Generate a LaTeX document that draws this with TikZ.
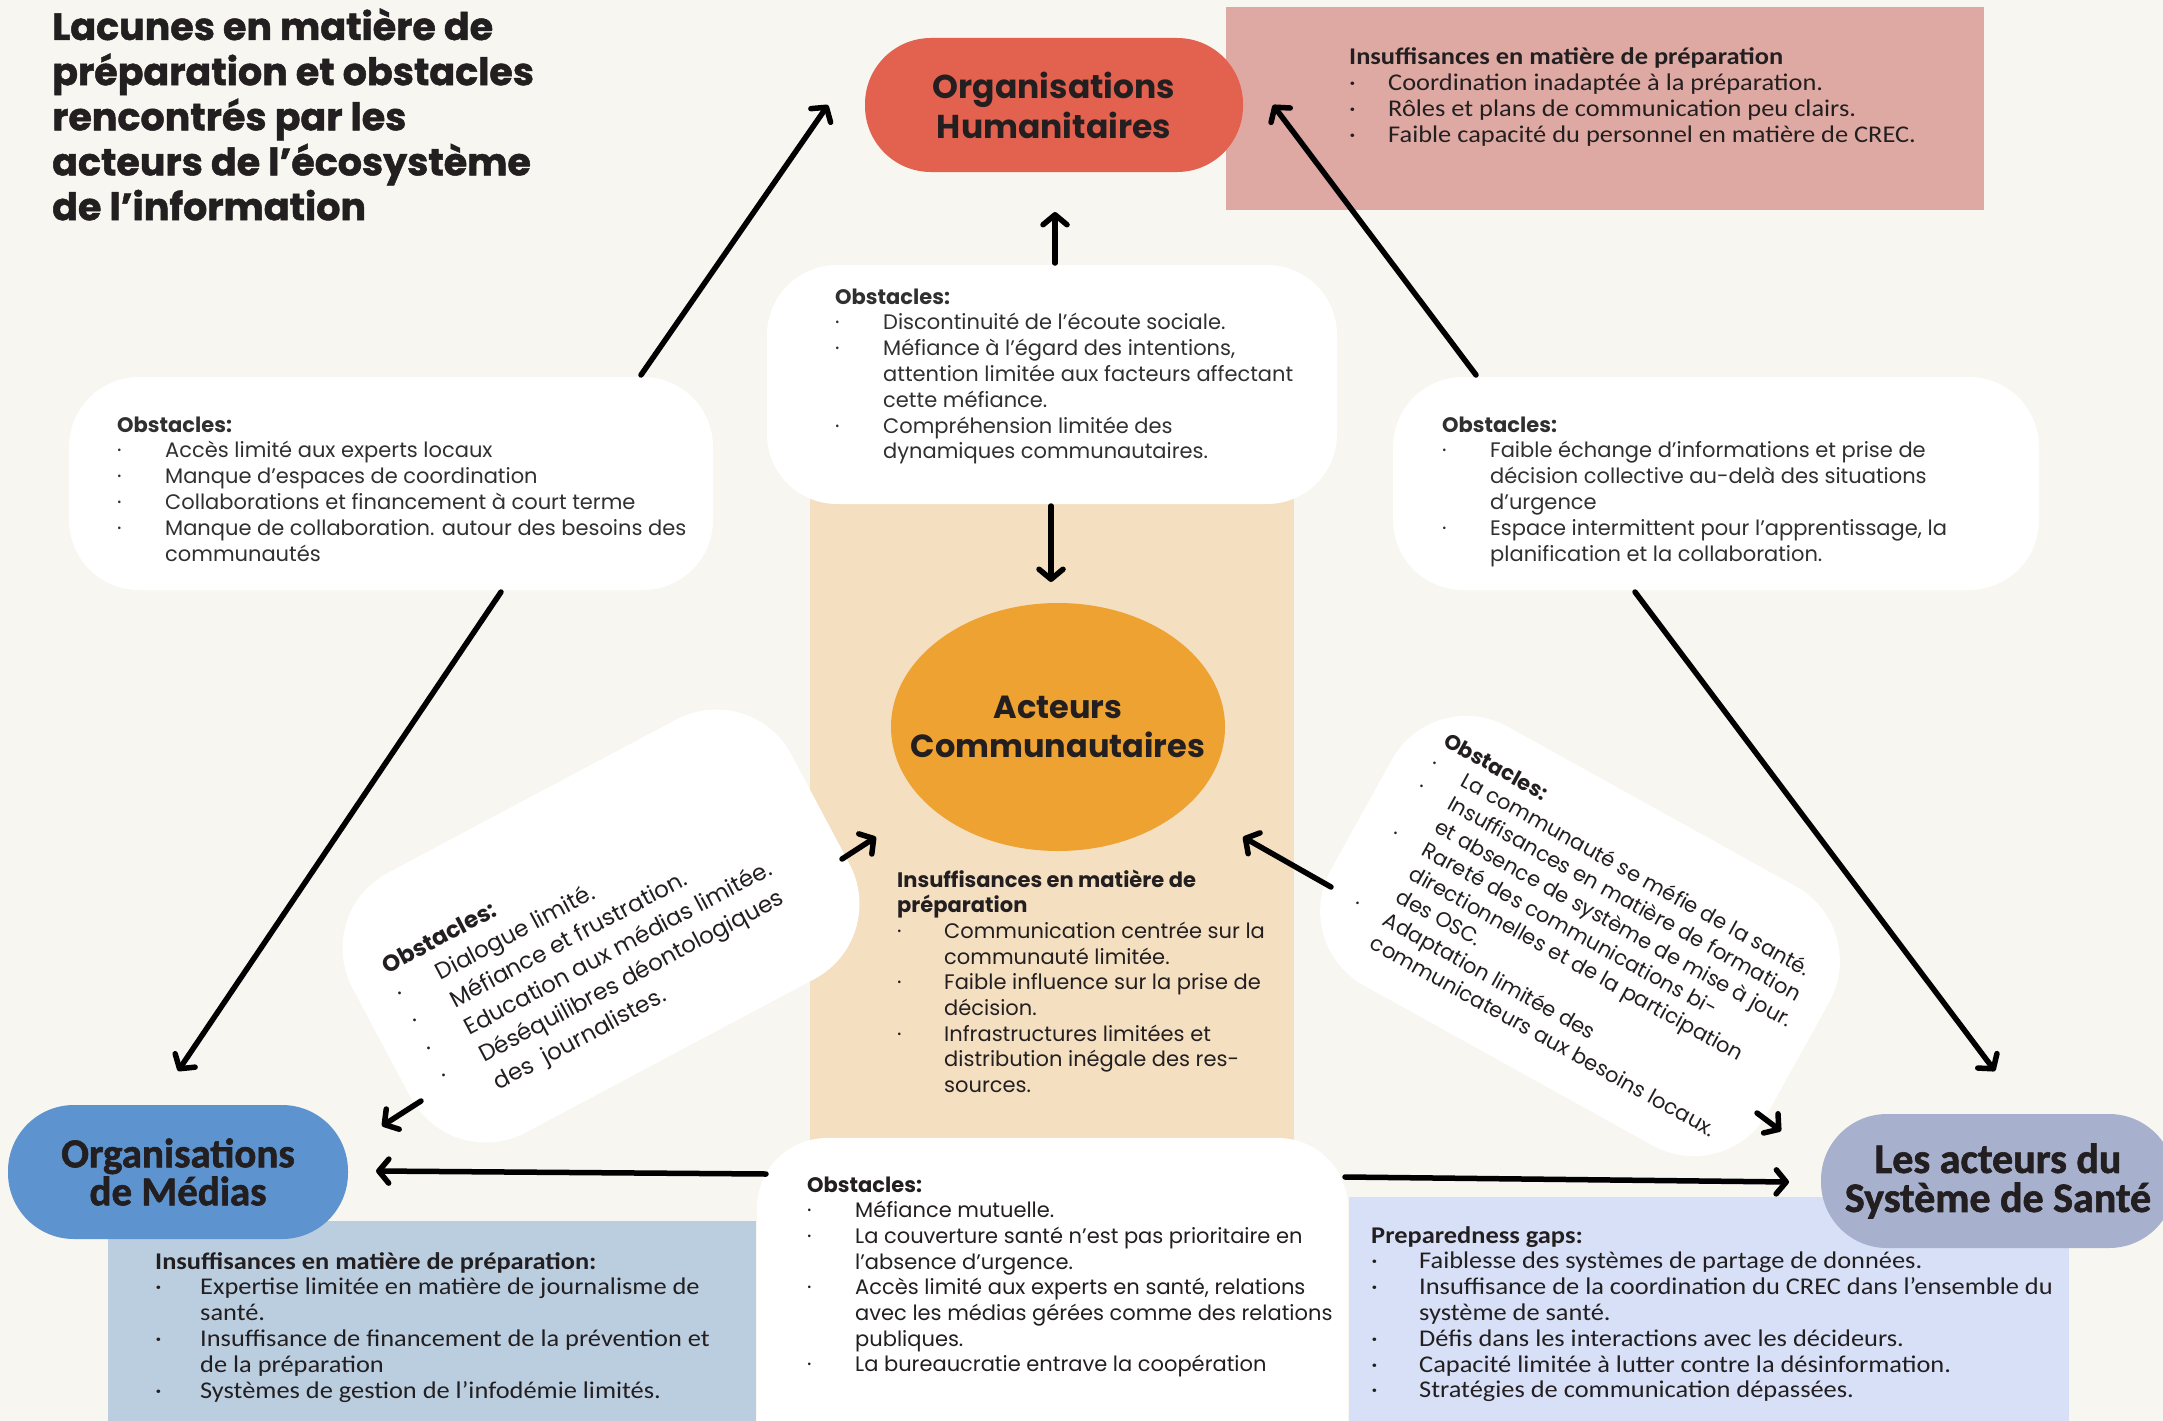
\documentclass[tikz,border=0pt]{standalone}
\usepackage{fontspec}
\setmainfont{Poppins}
\newfontfamily\titlef{Poppins}[BoldFeatures={FakeBold=1.3}]
\newfontfamily\condf{Carlito}[FakeStretch=1.1]
\newfontfamily\pillf{Carlito}[BoldFeatures={FakeBold=1.5}]
\usetikzlibrary{arrows.meta,calc,shapes.geometric}
\definecolor{bgc}{HTML}{F7F6F0}
\definecolor{ink}{HTML}{231F20}
\definecolor{lightink}{HTML}{303030}
\definecolor{humred}{HTML}{E2614F}
\definecolor{pinkbox}{HTML}{DFA9A3}
\definecolor{peach}{HTML}{F4DFC1}
\definecolor{orangec}{HTML}{EEA232}
\definecolor{medblue}{HTML}{5D93CF}
\definecolor{bluebox}{HTML}{BBCEE0}
\definecolor{healthc}{HTML}{A7B0CD}
\definecolor{lavbox}{HTML}{D7E0F6}
\newcommand\hd[1]{\multicolumn{2}{@{}l@{}}{\bfseries #1}}
\newcommand\bp{·}
\newcommand\lightsz{\fontsize{21}{25.8}\selectfont}
\newcommand\regsz{\fontsize{21}{25.7}\selectfont}
\newcommand\condsz{\condf\fontsize{24}{25.8}\selectfont}
\tikzset{
  wbox/.style={fill=white, draw=none, rounded corners=70pt, inner sep=0},
  plainbox/.style={draw=none, inner sep=0},
  pill/.style={draw=none, rounded corners=66pt, minimum height=134pt, inner sep=0, align=center, text=ink},
  arr/.style={draw=black, line width=5.5pt, line cap=round, line join=round, -{Straight Barb[length=10pt,width=24pt,round]}},
  txt/.style={inner sep=0, anchor=base west, text=ink},
}
\begin{document}
\begin{tikzpicture}[x=1pt,y=-1pt]
\clip (0,0) rectangle (2163,1421);
\fill[bgc] (0,0) rectangle (2163,1421);

% background panels
\node[plainbox, fill=peach, minimum width=484pt, minimum height=655pt] (peachp) at (1052,817.5) {};
\node[plainbox, fill=pinkbox, minimum width=758pt, minimum height=203pt] (pinkp) at (1605,108.5) {};
\node[plainbox, fill=bluebox, minimum width=648pt, minimum height=209pt] (bluep) at (432,1325.5) {};
\node[plainbox, fill=lavbox, minimum width=720pt, minimum height=233pt] (lavp) at (1709,1313.5) {};

% white obstacle boxes
\node[wbox, minimum width=570pt, minimum height=239pt] (tcb) at (1052,384.5) {};
\node[wbox, minimum width=644pt, minimum height=213pt] (lob) at (391,483.5) {};
\node[wbox, minimum width=646pt, minimum height=213pt] (rob) at (1716,483.5) {};
\node[wbox, minimum width=591pt, minimum height=362pt] (bcb) at (1052.5,1319) {};
\node[wbox, rounded corners=85pt, minimum width=497pt, minimum height=294pt, rotate=28] (ltb) at (601,926) {};
\node[wbox, rounded corners=85pt, minimum width=500pt, minimum height=296pt, rotate=-29] (rtb) at (1580,936) {};

% arrow end points
\coordinate (a1s) at (1055,263); \coordinate (a1e) at (1055,212);
\coordinate (a2s) at (1051,506); \coordinate (a2e) at (1051,582);
\coordinate (lhs) at (641,375); \coordinate (lhe) at (828,105);
\coordinate (lms) at (501,592); \coordinate (lme) at (178,1071);
\coordinate (rhs) at (1476,375); \coordinate (rhe) at (1273,105);
\coordinate (rss) at (1635,592); \coordinate (rse) at (1995,1071);
\coordinate (tls) at (842,859); \coordinate (tle) at (876,837);
\coordinate (tms) at (421,1101); \coordinate (tme) at (382,1126);
\coordinate (trs) at (1331,887); \coordinate (tre) at (1243,837);
\coordinate (ths) at (1757,1113); \coordinate (the) at (1781,1131);
\coordinate (bms) at (766,1174); \coordinate (bme) at (376,1171);
\coordinate (bhs) at (1345,1177); \coordinate (bhe) at (1789,1182);

\draw[arr] (a1s) -- (a1e);
\draw[arr] (a2s) -- (a2e);
\draw[arr] (lhs) -- (lhe);
\draw[arr] (lms) -- (lme);
\draw[arr] (rhs) -- (rhe);
\draw[arr] (rss) -- (rse);
\draw[arr] (tls) -- (tle);
\draw[arr] (tms) -- (tme);
\draw[arr] (trs) -- (tre);
\draw[arr] (ths) -- (the);
\draw[arr] (bms) -- (bme);
\draw[arr] (bhs) -- (bhe);

% actor nodes
\node[pill, fill=humred, minimum width=378pt, font=\fontsize{33}{40}\selectfont\bfseries] (hum) at (1054,105) {Organisations\\Humanitaires};
\node[ellipse, draw=none, fill=orangec, minimum width=334pt, minimum height=248pt, inner sep=0] (com) at (1058,727) {};
\node[inner sep=0, align=center, text=ink, font=\fontsize{32}{39}\selectfont\bfseries] (comlbl) at (com.center) {Acteurs\\Communautaires};
\node[pill, fill=medblue, minimum width=340pt, font=\pillf\fontsize{41}{38}\selectfont\bfseries] (med) at (178,1172) {Organisations\\de Médias};
\node[pill, fill=healthc, minimum width=354pt, font=\pillf\fontsize{42}{39}\selectfont\bfseries] (hea) at (1998,1181) {Les acteurs du\\Système de Santé};

% title
\node[txt, font=\titlef\fontsize{38}{44.8}\selectfont\bfseries] (title) at (52,40) {\begin{tabular}[t]{@{}l@{}}
Lacunes en matière de\\
préparation et obstacles\\
rencontrés par les\\
acteurs de l’écosystème\\
de l’information
\end{tabular}};

% texts
\node[txt, font=\condsz] (pinkt) at (1349,65) {\begin{tabular}[t]{@{}p{39pt}@{}l@{}}
\hd{Insuffisances en matière de préparation}\\
\bp & Coordination inadaptée à la préparation.\\
\bp & Rôles et plans de communication peu clairs.\\
\bp & Faible capacité du personnel en matière de CREC.
\end{tabular}};

\node[txt, text=lightink, font=\lightsz] (tct) at (835,304) {\begin{tabular}[t]{@{}p{48pt}@{}l@{}}
\hd{Obstacles:}\\
\bp & Discontinuité de l’écoute sociale.\\
\bp & Méfiance à l’égard des intentions,\\
 & attention limitée aux facteurs affectant\\
 & cette méfiance.\\
\bp & Compréhension limitée des\\
 & dynamiques communautaires.
\end{tabular}};

\node[txt, text=lightink, font=\lightsz] (lot) at (117,432) {\begin{tabular}[t]{@{}p{48pt}@{}l@{}}
\hd{Obstacles:}\\
\bp & Accès limité aux experts locaux\\
\bp & Manque d’espaces de coordination\\
\bp & Collaborations et financement à court terme\\
\bp & Manque de collaboration. autour des besoins des\\
 & communautés
\end{tabular}};

\node[txt, text=lightink, font=\lightsz] (rot) at (1442,432) {\begin{tabular}[t]{@{}p{48pt}@{}l@{}}
\hd{Obstacles:}\\
\bp & Faible échange d’informations et prise de\\
 & décision collective au-delà des situations\\
 & d’urgence\\
\bp & Espace intermittent pour l’apprentissage, la\\
 & planification et la collaboration.
\end{tabular}};

\node[txt, font=\regsz] (comt) at (897,887) {\begin{tabular}[t]{@{}p{47pt}@{}l@{}}
\hd{Insuffisances en matière de}\\
\hd{préparation}\\
\bp & Communication centrée sur la\\
 & communauté limitée.\\
\bp & Faible influence sur la prise de\\
 & décision.\\
\bp & Infrastructures limitées et\\
 & distribution inégale des res-\\
 & sources.
\end{tabular}};

\node[txt, font=\regsz] (bct) at (807,1192) {\begin{tabular}[t]{@{}p{48pt}@{}l@{}}
\hd{Obstacles:}\\
\bp & Méfiance mutuelle.\\
\bp & La couverture santé n’est pas prioritaire en\\
 & l’absence d’urgence.\\
\bp & Accès limité aux experts en santé, relations\\
 & avec les médias gérées comme des relations\\
 & publiques.\\
\bp & La bureaucratie entrave la coopération
\end{tabular}};

\node[txt, font=\condsz] (bluet) at (155,1269) {\begin{tabular}[t]{@{}p{45pt}@{}l@{}}
\hd{Insuffisances en matière de préparation:}\\
\bp & Expertise limitée en matière de journalisme de\\
 & santé.\\
\bp & Insuffisance de financement de la prévention et\\
 & de la préparation\\
\bp & Systèmes de gestion de l’infodémie limités.
\end{tabular}};

\node[txt, font=\condsz] (lavt) at (1371,1243) {\begin{tabular}[t]{@{}p{48pt}@{}l@{}}
\hd{Preparedness gaps:}\\
\bp & Faiblesse des systèmes de partage de données.\\
\bp & Insuffisance de la coordination du CREC dans l’ensemble du\\
 & système de santé.\\
\bp & Défis dans les interactions avec les décideurs.\\
\bp & Capacité limitée à lutter contre la désinformation.\\
\bp & Stratégies de communication dépassées.
\end{tabular}};

% rotated texts
\node[inner sep=0, text=ink, rotate=28, font=\fontsize{23}{31}\selectfont] (ltt) at (592,946) {\begin{tabular}[t]{@{}p{44pt}@{}l@{}}
\hd{Obstacles:}\\
\bp & Dialogue limité.\\
\bp & Méfiance et frustration.\\
\bp & Education aux médias limitée.\\
\bp & Déséquilibres déontologiques\\
 & des\ \ journalistes.
\end{tabular}};

\node[inner sep=0, text=ink, rotate=-29, font=\fontsize{21}{26.6}\selectfont] (rtt) at (1585,940) {\begin{tabular}[t]{@{}p{34pt}@{}l@{}}
\hd{Obstacles:}\\
\bp & La communauté se méfie de la santé.\\
\bp & Insuffisances en matière de formation\\
 & et absence de système de mise à jour.\\
\bp & Rareté des communications bi-\\
 & directionnelles et de la participation\\
 & des OSC.\\
\bp & Adaptation limitée des\\
 & communicateurs aux besoins locaux.
\end{tabular}};
\end{tikzpicture}
\end{document}
